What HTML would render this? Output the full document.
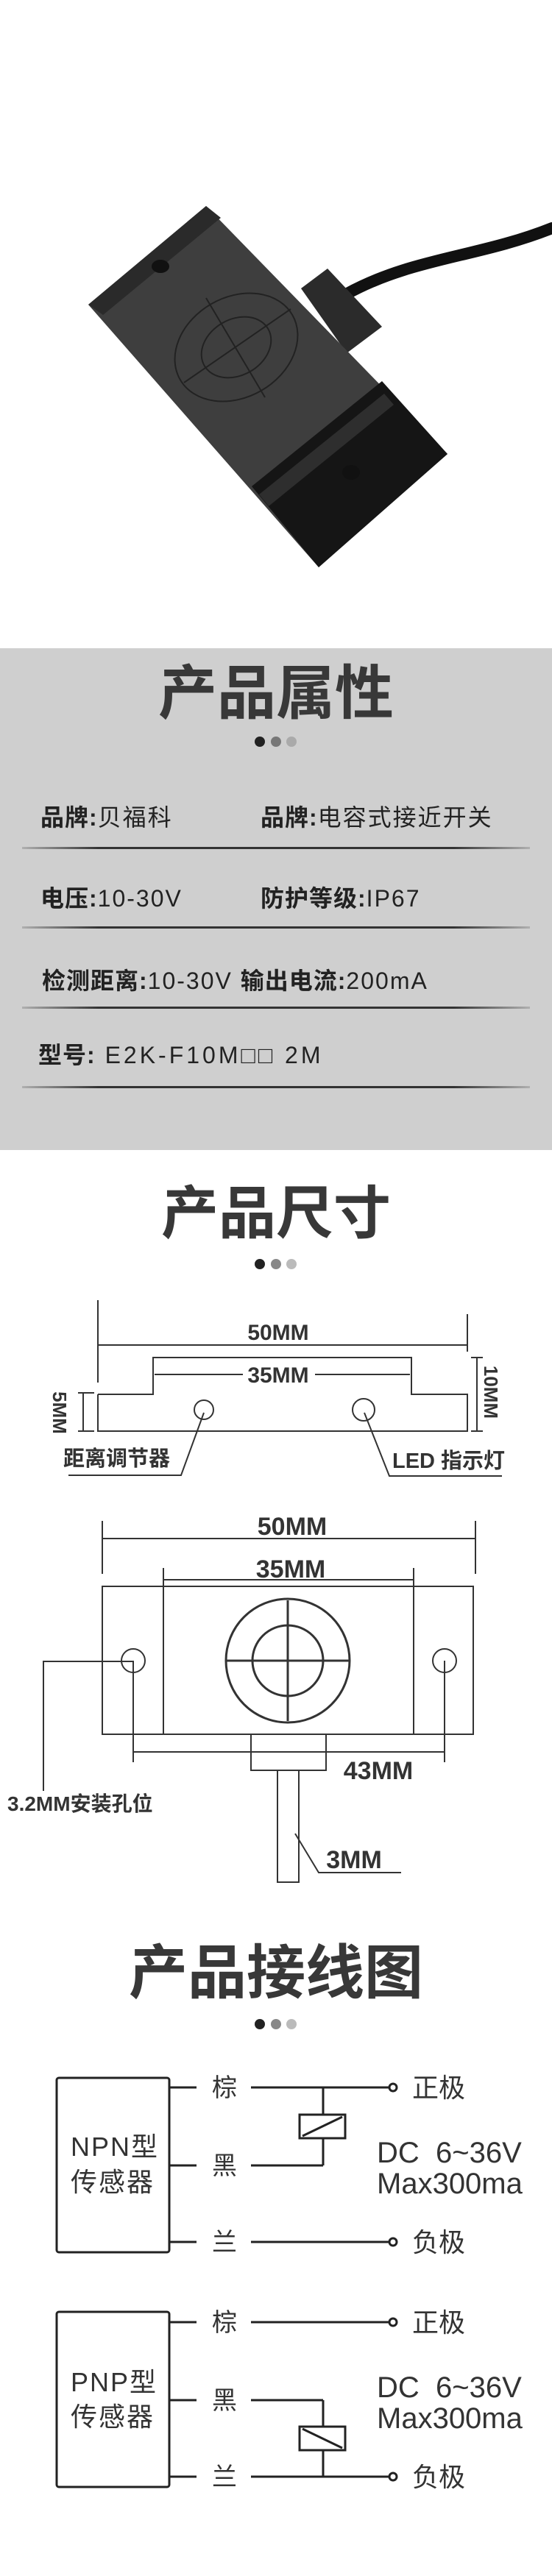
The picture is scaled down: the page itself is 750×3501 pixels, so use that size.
<!DOCTYPE html>
<html><head><meta charset="utf-8"><style>
*{margin:0;padding:0;box-sizing:border-box}
body{width:750px;height:3501px;background:#fff;position:relative;overflow:hidden;font-family:"Liberation Sans","Noto Sans CJK SC",sans-serif;color:#333}
.gray{position:absolute;left:0;top:881px;width:750px;height:682px;background:#cfcfcf}
.title{position:absolute;left:0;width:750px;text-align:center;font-weight:bold;color:#383838;line-height:1}
.dots{position:absolute;left:346px;width:58px;height:14px}
.dots i{position:absolute;top:0;width:14px;height:14px;border-radius:50%}
.row{position:absolute;font-size:32px;color:#222;line-height:1;white-space:nowrap;letter-spacing:2px}
.row b{font-weight:bold;letter-spacing:1px}
.ln{position:absolute;left:30px;width:690px;height:3px;background:linear-gradient(90deg,rgba(50,50,50,0.2),#333 15%,#333 85%,rgba(50,50,50,0.2))}
</style></head><body>

<svg style="position:absolute;left:0;top:0" width="750" height="881">
<path d="M750,310 C650,350 560,350 470,400" stroke="#111" stroke-width="16" fill="none" stroke-linecap="round"/>
<polygon points="409,392 445,365 519,444 471,480" fill="#2b2b2b"/>
<polygon points="120,414 280,280 608,617 433,771" fill="#3e3e3e"/>
<polygon points="120,414 280,280 300,296 140,428" fill="#2a2a2a"/>
<polygon points="342,661 519,518 608,617 433,771" fill="#151515"/>
<polygon points="352,672 522,535 535,550 365,688" fill="#2e2e2e"/>
<ellipse cx="321" cy="472" rx="88" ry="68" transform="rotate(-30 321 472)" fill="none" stroke="#222" stroke-width="2"/>
<ellipse cx="321" cy="472" rx="50" ry="38" transform="rotate(-30 321 472)" fill="none" stroke="#222" stroke-width="2"/>
<line x1="280" y1="405" x2="360" y2="540" stroke="#222" stroke-width="2"/>
<line x1="250" y1="520" x2="395" y2="420" stroke="#222" stroke-width="2"/>
<ellipse cx="218" cy="362" rx="12" ry="9" fill="#111"/>
<ellipse cx="477" cy="642" rx="12" ry="10" fill="#111"/>
</svg>

<div class="gray"></div>
<div class="title" style="top:903px;font-size:80px">产品属性</div>
<div class="dots" style="top:1001px"><i style="left:0;background:#222"></i><i style="left:22px;background:#777"></i><i style="left:43px;background:#aaa"></i></div>
<div class="row" style="left:55px;top:1095px"><b>品牌:</b>贝福科</div>
<div class="row" style="left:354px;top:1095px"><b>品牌:</b>电容式接近开关</div>
<div class="ln" style="top:1151px"></div>
<div class="row" style="left:55px;top:1205px"><b>电压:</b>10-30V</div>
<div class="row" style="left:354px;top:1205px"><b>防护等级:</b>IP67</div>
<div class="ln" style="top:1259px"></div>
<div class="row" style="left:57px;top:1317px"><b>检测距离:</b>10-30V <b>输出电流:</b>200mA</div>
<div class="ln" style="top:1368px"></div>
<div class="row" style="left:52px;top:1418px;letter-spacing:4px"><b>型号:</b> E2K-F10M□□ 2M</div>
<div class="ln" style="top:1476px"></div>

<div class="title" style="top:1610px;font-size:78px">产品尺寸</div>
<div class="dots" style="top:1711px"><i style="left:0;background:#222"></i><i style="left:22px;background:#888"></i><i style="left:43px;background:#bbb"></i></div>

<svg style="position:absolute;left:0;top:0" width="750" height="3501" font-family="Liberation Sans, Noto Sans CJK SC, sans-serif" font-weight="bold" fill="#333">
<g stroke="#333" stroke-width="2" fill="none">
<line x1="133" y1="1767" x2="133" y2="1879"/>
<line x1="635" y1="1786" x2="635" y2="1837"/>
<line x1="133" y1="1828" x2="635" y2="1828"/>
<polyline points="133,1895 208,1895 208,1845 559,1845 559,1895 635,1895 635,1945 133,1945 133,1895"/>
<line x1="210" y1="1868" x2="330" y2="1868"/><line x1="428" y1="1868" x2="557" y2="1868"/>
<circle cx="277" cy="1916" r="13"/><circle cx="494" cy="1916" r="15"/>
<line x1="113" y1="1893" x2="113" y2="1945"/><line x1="106" y1="1893" x2="128" y2="1893"/><line x1="106" y1="1945" x2="128" y2="1945"/>
<line x1="648" y1="1845" x2="648" y2="1945"/><line x1="640" y1="1845" x2="656" y2="1845"/><line x1="640" y1="1945" x2="656" y2="1945"/>
<polyline points="93,2005 246,2005 277,1920"/>
<polyline points="682,2006 529,2006 495,1920"/>
<line x1="139" y1="2067" x2="139" y2="2139"/><line x1="646" y1="2067" x2="646" y2="2139"/>
<line x1="139" y1="2091" x2="646" y2="2091"/>
<line x1="222" y1="2131" x2="222" y2="2357"/><line x1="562" y1="2131" x2="562" y2="2357"/>
<line x1="222" y1="2147" x2="562" y2="2147"/>
<rect x="139" y="2156" width="504" height="201"/>
<circle cx="391" cy="2257" r="84" stroke-width="3"/>
<circle cx="391" cy="2257" r="48" stroke-width="3"/>
<line x1="391" y1="2175" x2="391" y2="2339" stroke-width="3"/>
<line x1="307" y1="2257" x2="475" y2="2257" stroke-width="3"/>
<circle cx="181" cy="2257" r="16"/><circle cx="604" cy="2257" r="16"/>
<rect x="341" y="2357" width="102" height="49"/>
<rect x="377" y="2406" width="29" height="152"/>
<line x1="181" y1="2257" x2="181" y2="2395"/><line x1="604" y1="2257" x2="604" y2="2395"/>
<line x1="181" y1="2381" x2="604" y2="2381"/>
<polyline points="181,2258 59,2258 59,2434"/>
<polyline points="401,2492 433,2545 545,2545"/>
</g>
<text x="378" y="1821" font-size="30" text-anchor="middle">50MM</text>
<text x="378" y="1879" font-size="30" text-anchor="middle">35MM</text>
<text transform="translate(72,1920) rotate(90)" font-size="26" text-anchor="middle">5MM</text>
<text transform="translate(658,1892) rotate(90)" font-size="26" text-anchor="middle">10MM</text>
<text x="86" y="1992" font-size="29">距离调节器</text>
<text x="533" y="1995" font-size="29">LED 指示灯</text>
<text x="397" y="2086" font-size="34" text-anchor="middle">50MM</text>
<text x="395" y="2144" font-size="34" text-anchor="middle">35MM</text>
<text x="514" y="2418" font-size="34" text-anchor="middle">43MM</text>
<text x="10" y="2461" font-size="28">3.2MM安装孔位</text>
<text x="481" y="2539" font-size="34" text-anchor="middle">3MM</text>
</svg>

<div class="title" style="top:2642px;font-size:80px">产品接线图</div>
<div class="dots" style="top:2744px"><i style="left:0;background:#222"></i><i style="left:22px;background:#888"></i><i style="left:43px;background:#bbb"></i></div>

<svg style="position:absolute;left:0;top:0" width="750" height="3501" font-family="Liberation Sans, Noto Sans CJK SC, sans-serif" fill="#333">
<g stroke="#222" stroke-width="3" fill="none">
<rect x="77" y="2824" width="153" height="237" rx="3"/>
<line x1="230" y1="2837" x2="267" y2="2837"/><line x1="230" y1="2943" x2="267" y2="2943"/><line x1="230" y1="3047" x2="267" y2="3047"/>
<line x1="341" y1="2837" x2="529" y2="2837"/><line x1="341" y1="2943" x2="439" y2="2943"/><line x1="341" y1="3047" x2="529" y2="3047"/>
<line x1="439" y1="2837" x2="439" y2="2943"/>
<rect x="407" y="2874" width="62" height="32" fill="#fff"/>
<line x1="411" y1="2903" x2="465" y2="2877"/>
<circle cx="534" cy="2837" r="5" fill="#fff"/><circle cx="534" cy="3047" r="5" fill="#fff"/>
<rect x="77" y="3142" width="153" height="238" rx="3"/>
<line x1="230" y1="3156" x2="267" y2="3156"/><line x1="230" y1="3262" x2="267" y2="3262"/><line x1="230" y1="3366" x2="267" y2="3366"/>
<line x1="341" y1="3156" x2="529" y2="3156"/><line x1="341" y1="3262" x2="439" y2="3262"/><line x1="341" y1="3366" x2="529" y2="3366"/>
<line x1="439" y1="3262" x2="439" y2="3366"/>
<rect x="407" y="3298" width="62" height="32" fill="#fff"/>
<line x1="411" y1="3301" x2="465" y2="3327"/>
<circle cx="534" cy="3156" r="5" fill="#fff"/><circle cx="534" cy="3366" r="5" fill="#fff"/>
</g>
<g font-size="34">
<text x="305" y="2849" text-anchor="middle">棕</text><text x="305" y="2955" text-anchor="middle">黑</text><text x="305" y="3059" text-anchor="middle">兰</text>
<text x="305" y="3168" text-anchor="middle">棕</text><text x="305" y="3274" text-anchor="middle">黑</text><text x="305" y="3378" text-anchor="middle">兰</text>
</g>
<g font-size="36">
<text x="560" y="2850">正极</text><text x="560" y="3060">负极</text>
<text x="560" y="3169">正极</text><text x="560" y="3379">负极</text>
<text x="96" y="2930" letter-spacing="2">NPN型</text><text x="96" y="2978" letter-spacing="2">传感器</text>
<text x="96" y="3250" letter-spacing="2">PNP型</text><text x="96" y="3297" letter-spacing="2">传感器</text>
</g>
<g font-size="40">
<text x="512" y="2939" xml:space="preserve">DC  6~36V</text><text x="512" y="2981">Max300ma</text>
<text x="512" y="3258" xml:space="preserve">DC  6~36V</text><text x="512" y="3300">Max300ma</text>
</g>
</svg>
</body></html>
